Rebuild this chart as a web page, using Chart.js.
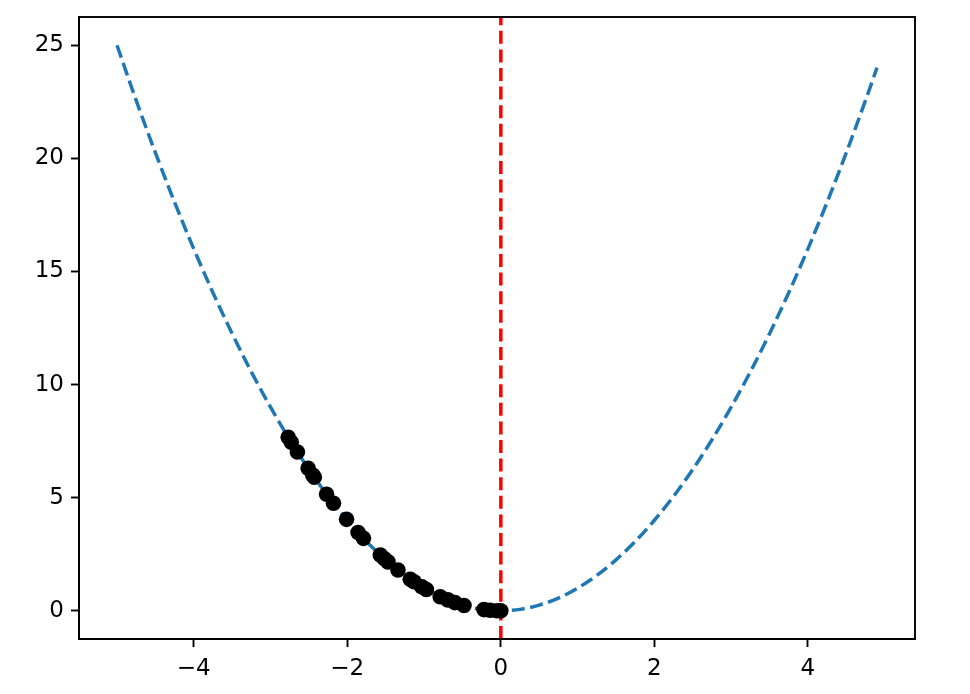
<!DOCTYPE html>
<html>
<head>
<meta charset="utf-8">
<script src="https://cdn.jsdelivr.net/npm/chart.js@4"></script>
<style>
  body { margin: 0; background: #fff; }
</style>
</head>
<body>
<canvas id="myChart" width="970" height="694"></canvas>
<script>
// curve points
const curveX = [-5, -4.75, -4.5, -4.25, -4, -3.75, -3.5, -3.25, -3, -2.75, -2.5, -2.25, -2, -1.75, -1.5, -1.25, -1, -0.75, -0.5, -0.25,
  0, 0.25, 0.5, 0.75, 1, 1.25, 1.5, 1.75, 2, 2.25, 2.5, 2.75, 3, 3.25, 3.5, 3.75, 4, 4.25, 4.5, 4.75, 4.9];
const curveY = [25, 22.56, 20.25, 18.06, 16, 14.06, 12.25, 10.56, 9, 7.56, 6.25, 5.06, 4, 3.06, 2.25, 1.56, 1, 0.56, 0.25, 0.06,
  0, 0.06, 0.25, 0.56, 1, 1.56, 2.25, 3.06, 4, 5.06, 6.25, 7.56, 9, 10.56, 12.25, 14.06, 16, 18.06, 20.25, 22.56, 24.01];

// black dots
const dotX = [-2.77, -2.73, -2.65, -2.51, -2.45, -2.43, -2.27, -2.18, -2.01, -1.86, -1.79, -1.57, -1.52, -1.47,
  -1.34, -1.18, -1.13, -1.03, -0.97, -0.79, -0.69, -0.6, -0.48, -0.22, -0.14, -0.05, 0];
const dotY = [7.67, 7.45, 7.02, 6.3, 6.0, 5.9, 5.15, 4.75, 4.04, 3.46, 3.2, 2.46, 2.31, 2.16,
  1.8, 1.39, 1.28, 1.06, 0.94, 0.62, 0.48, 0.36, 0.23, 0.05, 0.02, 0, 0];

// red vertical line
const vlineX = 0;

const xTicks = [-4, -2, 0, 2, 4];
const yTicks = [0, 5, 10, 15, 20, 25];
const xMin = -5.495, xMax = 5.395;
const yMin = -1.25, yMax = 26.25;

const ctx = document.getElementById("myChart");

const boxPlugin = {
  id: "box",
  afterDatasetsDraw(chart) {
    const a = chart.chartArea;
    const c = chart.ctx;
    c.save();
    c.strokeStyle = "#000";
    c.lineWidth = 1.9;
    c.strokeRect(a.left, a.top, a.right - a.left, a.bottom - a.top);
    c.restore();
  }
};

function tickLabel(v) {
  return String(v).replace("-", "\u2212");
}

const font = { family: "DejaVu Sans", size: 23 };

new Chart(ctx, {
  type: "scatter",
  data: {
    datasets: [
      {
        data: dotX.map((x, i) => ({ x: x, y: dotY[i] })),
        backgroundColor: "#000",
        borderColor: "#000",
        pointRadius: 7.8,
        pointBorderWidth: 0,
        order: 0
      },
      {
        data: [{ x: vlineX, y: yMin }, { x: vlineX, y: yMax }],
        showLine: true,
        borderColor: "#ff0000",
        borderWidth: 3.5,
        borderDash: [13, 5.6],
        pointRadius: 0,
        order: 1
      },
      {
        data: curveX.map((x, i) => ({ x: x, y: curveY[i] })),
        showLine: true,
        borderColor: "#1f77b4",
        borderWidth: 3.5,
        borderDash: [13, 5.6],
        cubicInterpolationMode: "monotone",
        pointRadius: 0,
        order: 2
      }
    ]
  },
  options: {
    responsive: false,
    animation: false,
    devicePixelRatio: 1,
    layout: { padding: { left: 0, right: 55, top: 17, bottom: 0 } },
    plugins: { legend: { display: false }, tooltip: { enabled: false } },
    scales: {
      x: {
        type: "linear",
        min: xMin,
        max: xMax,
        afterBuildTicks: (s) => { s.ticks = xTicks.map(v => ({ value: v })); },
        afterFit: (s) => { s.height = 55; s.paddingLeft = 0; s.paddingRight = 0; },
        grid: { drawOnChartArea: false, tickLength: 8, tickWidth: 1.9, tickColor: "#000" },
        border: { color: "#000", width: 1.9 },
        ticks: { color: "#000", font: font, padding: 8, maxRotation: 0, callback: tickLabel }
      },
      y: {
        type: "linear",
        min: yMin,
        max: yMax,
        afterBuildTicks: (s) => { s.ticks = yTicks.map(v => ({ value: v })); },
        afterFit: (s) => { s.width = 79; s.paddingTop = 0; s.paddingBottom = 0; },
        grid: { drawOnChartArea: false, tickLength: 8, tickWidth: 1.9, tickColor: "#000" },
        border: { color: "#000", width: 1.9 },
        ticks: { color: "#000", font: font, padding: 7, callback: tickLabel }
      }
    }
  },
  plugins: [boxPlugin]
});
</script>
</body>
</html>
